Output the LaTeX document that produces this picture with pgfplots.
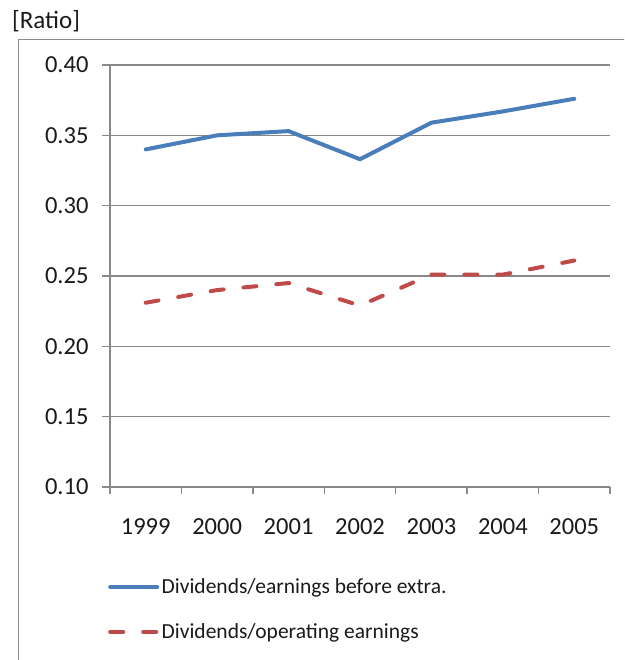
\documentclass[border=0pt]{standalone}
\usepackage{fontspec}
\setmainfont{Carlito}
\usepackage{pgfplots}
\pgfplotsset{compat=1.18}
\definecolor{serA}{HTML}{4A7EBB}
\definecolor{serB}{HTML}{BE4B48}
\definecolor{gridc}{HTML}{888888}
\definecolor{framec}{HTML}{8C8C8C}
\definecolor{txt}{HTML}{1A1A1A}

\begin{document}
\begin{tikzpicture}
\useasboundingbox (0pt,0pt) rectangle (624pt,-660pt);
% chart frame, open to the right and bottom
\begin{scope}
\clip (0pt,0pt) rectangle (624pt,-660pt);
\draw[framec, line width=1.5pt] (18.5pt,-700pt) |- (700pt,-39.5pt);
\end{scope}
\node[anchor=west, font=\fontsize{25}{29}\selectfont, text=txt, inner sep=0pt] at (12pt,-21pt) {[Ratio]};
\begin{axis}[
  at={(110pt,-487pt)}, anchor=south west,
  scale only axis, width=500pt, height=422pt,
  xmin=-0.5, xmax=6.5, ymin=0.10, ymax=0.40,
  axis lines=left, axis line style={-, gridc, line width=1.5pt},
  xtick={0,...,6},
  xticklabels={1999,2000,2001,2002,2003,2004,2005},
  minor xtick={-0.5,0.5,...,6.5},
  ytick={0.10,0.15,...,0.41},
  tick align=outside,
  major tick length=8pt, minor tick length=7pt,
  every tick/.style={gridc, line width=1.5pt},
  major x tick style={draw=none},
  minor x tick style={gridc, line width=1.5pt},
  ymajorgrids, major grid style={gridc, line width=1.5pt},
  yticklabel style={xshift=-10pt, /pgf/number format/fixed, /pgf/number format/fixed zerofill,
    /pgf/number format/precision=2, /pgf/number format/assume math mode=true},
  xticklabel style={yshift=-20pt},
  tick label style={font=\fontsize{24.5}{28}\selectfont, text=txt},
  legend cell align=left,
  legend style={at={(0,0)}, anchor=north west, xshift=-2pt, yshift=-89pt,
    draw=none, fill=none, inner sep=0pt, row sep=23.5pt,
    font=\fontsize{21.5}{26}\selectfont, text=txt,
    nodes={inner sep=2.5pt}},
  legend image code/.code={\draw[#1] (0pt,0pt) -- (47pt,0pt);},
  clip=false,
]
\addplot[serA, line width=4pt, line join=round, line cap=round] coordinates {
  (0,0.340) (1,0.350) (2,0.353) (3,0.333) (4,0.359) (5,0.367) (6,0.376)};
\addlegendentry{Dividends/earnings before extra.}
\addplot[serB, line width=4pt, line cap=round, line join=round, dash pattern=on 13pt off 20pt] coordinates {
  (0,0.231) (1,0.240) (2,0.245) (3,0.229) (4,0.251) (5,0.251) (6,0.261)};
\addlegendentry{Dividends/operating earnings}
\end{axis}
\end{tikzpicture}
\end{document}
